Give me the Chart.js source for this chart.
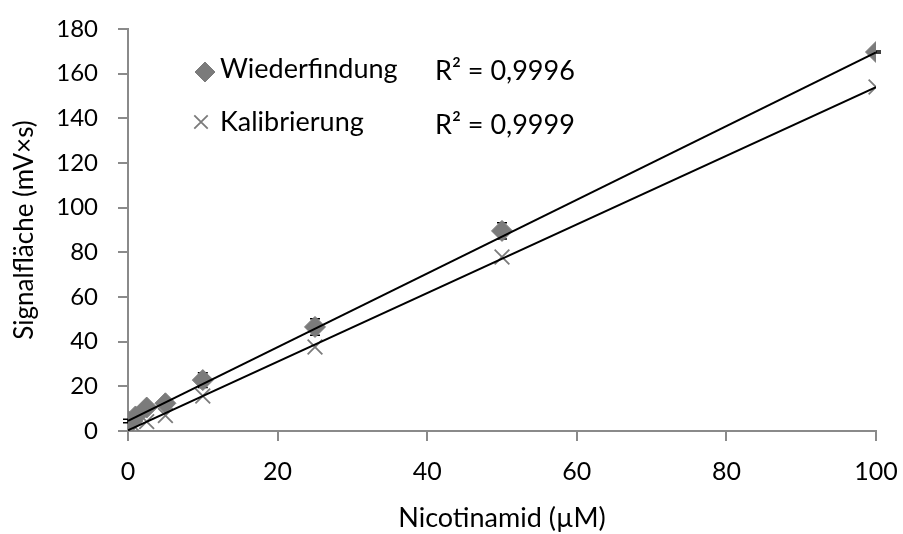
<!DOCTYPE html>
<html>
<head>
<meta charset="utf-8">
<script src="https://cdn.jsdelivr.net/npm/chart.js@4.4.1/dist/chart.umd.min.js"></script>
<style>
  body { margin: 0; background: #fff; }
  canvas { display: block; }
</style>
</head>
<body>
<canvas id="nicotinChart" width="903" height="534"></canvas>
<script>
// concentrations (µM) and measured peak areas (mV×s)
const conc = [0, 1, 2.5, 5, 10, 25, 50, 100];
const wiederfindung = [4.5, 6.5, 10.5, 12.4, 22.8, 46.6, 89.6, 169.7];
const wiederfindungErr = [0.8, 0.8, 0.8, 1, 3.3, 3.7, 3.6, 0.5];
const kalibrierung = [0, 1.5, 4.2, 6.9, 15.7, 37.6, 77.9, 154];

// linear trendlines (end points)
const trendX = [0, 100];
const trendWieder = [4.5, 169.5];
const trendKalib = [0.3, 154];

const seriesNames = ["Wiederfindung", "Kalibrierung"];
const r2Labels = ["R² = 0,9996", "R² = 0,9999"];

const FONT = "Lato";
const AXIS_GREY = "#8a8a8a";
const MARK_GREY = "#7b7b7b";

const toPoints = (xs, ys) => xs.map((x, i) => ({ x: x, y: ys[i] }));

// error bars for the recovery series, drawn below the diamonds
const errorBars = {
  id: "errorBars",
  beforeDatasetsDraw(chart) {
    const ctx = chart.ctx;
    const xs = chart.scales.x;
    const ys = chart.scales.y;
    ctx.save();
    ctx.strokeStyle = "#000";
    ctx.lineWidth = 1.5;
    conc.forEach((c, i) => {
      const px = xs.getPixelForValue(c);
      const top = ys.getPixelForValue(wiederfindung[i] + wiederfindungErr[i]);
      const bot = ys.getPixelForValue(wiederfindung[i] - wiederfindungErr[i]);
      ctx.beginPath();
      ctx.moveTo(px, top); ctx.lineTo(px, bot);
      ctx.moveTo(px - 5, top); ctx.lineTo(px + 5, top);
      ctx.moveTo(px - 5, bot); ctx.lineTo(px + 5, bot);
      ctx.stroke();
    });
    ctx.restore();
  }
};

// legend + R² labels inside the plot, Excel style
const legendBox = {
  id: "legendBox",
  afterDraw(chart) {
    const ctx = chart.ctx;
    ctx.save();
    ctx.font = "27px " + FONT;
    ctx.textBaseline = "alphabetic";

    ctx.fillStyle = MARK_GREY;
    ctx.strokeStyle = MARK_GREY;
    ctx.lineWidth = 1;
    Chart.helpers.drawPoint(ctx, { pointStyle: "rectRot", radius: 10, rotation: 0, borderWidth: 1 }, 205, 72);
    ctx.lineWidth = 1.8;
    Chart.helpers.drawPoint(ctx, { pointStyle: "crossRot", radius: 9.5, rotation: 0, borderWidth: 1.8 }, 201, 122);

    ctx.fillStyle = "#000";
    ctx.fillText(seriesNames[0], 220, 78);
    ctx.fillText(seriesNames[1], 220, 131);
    ctx.fillText(r2Labels[0], 435, 80);
    ctx.fillText(r2Labels[1], 435, 134);
    ctx.restore();
  }
};

const ctx = document.getElementById("nicotinChart").getContext("2d");
const nicotinChart = new Chart(ctx, {
  type: "scatter",
  data: {
    datasets: [
      {
        label: "Trend Wiederfindung",
        data: toPoints(trendX, trendWieder),
        showLine: true,
        borderColor: "#000",
        borderWidth: 2,
        pointRadius: 0,
      },
      {
        label: "Trend Kalibrierung",
        data: toPoints(trendX, trendKalib),
        showLine: true,
        borderColor: "#000",
        borderWidth: 2,
        pointRadius: 0,
      },
      {
        label: seriesNames[0],
        data: toPoints(conc, wiederfindung),
        pointStyle: "rectRot",
        pointRadius: 10.5,
        backgroundColor: MARK_GREY,
        borderColor: MARK_GREY,
        borderWidth: 1,
      },
      {
        label: seriesNames[1],
        data: toPoints(conc, kalibrierung),
        pointStyle: "crossRot",
        pointRadius: 10.4,
        borderColor: MARK_GREY,
        borderWidth: 1.8,
      },
    ],
  },
  options: {
    responsive: false,
    animation: false,
    layout: { padding: { top: 29, right: 27, left: 0, bottom: 0 } },
    plugins: {
      legend: { display: false },
      tooltip: { enabled: false },
    },
    scales: {
      x: {
        type: "linear",
        min: 0,
        max: 100,
        afterFit(scale) {
          scale.height = 103;
          scale.paddingLeft = 0;
          scale.paddingRight = 0;
        },
        ticks: {
          stepSize: 20,
          padding: 16,
          color: "#000",
          font: { family: FONT, size: 25 },
        },
        grid: {
          drawOnChartArea: false,
          drawTicks: true,
          tickLength: 10,
          color: AXIS_GREY,
          lineWidth: 2,
        },
        border: { color: AXIS_GREY, width: 2 },
        title: {
          display: true,
          text: "Nicotinamid (µM)",
          color: "#000",
          font: { family: FONT, size: 27 },
          padding: { top: 0, bottom: 0 },
        },
      },
      y: {
        type: "linear",
        min: 0,
        max: 180,
        afterFit(scale) {
          scale.width = 128;
          scale.paddingTop = 0;
          scale.paddingBottom = 0;
        },
        ticks: {
          stepSize: 20,
          padding: 20,
          color: "#000",
          font: { family: FONT, size: 24 },
        },
        grid: {
          drawOnChartArea: false,
          drawTicks: true,
          tickLength: 10,
          color: AXIS_GREY,
          lineWidth: 2,
        },
        border: { color: AXIS_GREY, width: 2 },
        title: {
          display: true,
          text: "Signalfläche (mV×s)",
          color: "#000",
          font: { family: FONT, size: 26 },
          padding: { top: 9, bottom: 0 },
        },
      },
    },
  },
  plugins: [errorBars, legendBox],
});
</script>
</body>
</html>
